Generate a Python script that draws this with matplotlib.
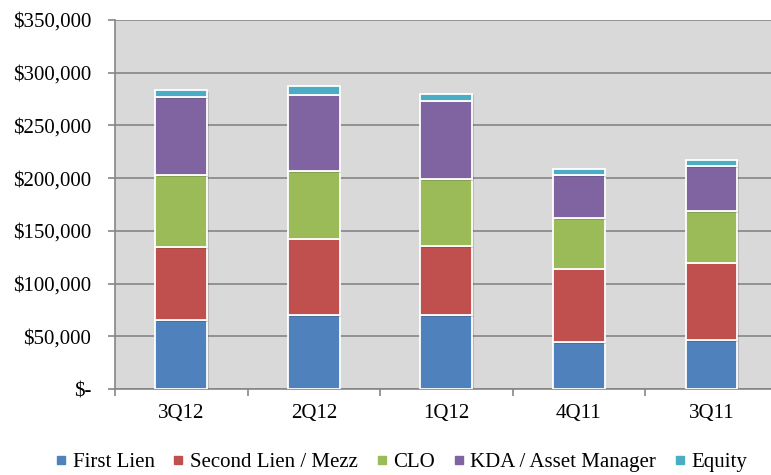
import numpy as np
import matplotlib
matplotlib.use('Agg')
from matplotlib import pyplot as plt
from matplotlib.lines import Line2D
import matplotlib.patheffects as pe

# 数据（千美元）
quarters = ['3Q12', '2Q12', '1Q12', '4Q11', '3Q11']
first_lien = [65200, 69900, 70200, 44600, 46200]
second_lien = [69500, 72800, 65200, 69600, 73700]
clo = [68100, 63800, 63800, 48100, 48700]
kda = [73700, 72800, 74100, 40500, 42700]
equity = [6900, 7600, 6900, 6300, 5700]

series_names = ['First Lien', 'Second Lien / Mezz', 'CLO', 'KDA / Asset Manager', 'Equity']
colors = ['#4F81BD', '#C0504D', '#9BBB59', '#8064A2', '#4BACC6']
y_ticks = [0, 50000, 100000, 150000, 200000, 250000, 300000, 350000]
y_labels = ['$-', '$50,000', '$100,000', '$150,000', '$200,000', '$250,000', '$300,000', '$350,000']

plt.rcParams['font.family'] = ['Liberation Serif', 'DejaVu Serif']
grey = '#868686'

fig = plt.figure(figsize=(7.71, 4.75), dpi=100)
ax = fig.add_axes([0.1492, 0.181, 0.8508, 0.777])
ax.set_facecolor('#D9D9D9')

x = np.arange(len(quarters))
bottom = np.zeros(len(quarters))
for vals, name, c in zip([first_lien, second_lien, clo, kda, equity], series_names, colors):
    ax.bar(x, vals, width=0.39, bottom=bottom, color=c, edgecolor='white', linewidth=1.3,
           zorder=3, label=name,
           path_effects=[pe.SimplePatchShadow(offset=(1.2, -1.2), alpha=0.18), pe.Normal()])
    bottom += np.array(vals)

ax.set_xlim(-0.5, 4.45)
ax.set_ylim(0, 350000)
ax.set_yticks(y_ticks)
ax.set_yticklabels(y_labels)
ax.yaxis.grid(True, color=grey, linewidth=1.2, zorder=1)
ax.set_axisbelow(True)

ax.set_xticks(x)
ax.set_xticklabels(quarters)
ax.set_xticks(np.arange(-0.5, 4.0, 1.0), minor=True)
ax.tick_params(axis='x', which='major', length=0, pad=11, labelsize=15)
ax.tick_params(axis='x', which='minor', length=5, width=1.2, color=grey, direction='out')
ax.tick_params(axis='y', length=5, width=1.2, color=grey, pad=12, labelsize=15)

for s in ['top', 'right']:
    ax.spines[s].set_visible(False)
for s in ['left', 'bottom']:
    ax.spines[s].set_color(grey)
    ax.spines[s].set_linewidth(1.2)

handles = [Line2D([], [], marker='s', linestyle='none', markersize=6, color=c) for c in colors]
fig.legend(handles, series_names, loc='center', bbox_to_anchor=(0.521, 0.027), ncol=5,
           frameon=False, fontsize=15, handlelength=0.5, handletextpad=0.3, columnspacing=0.9,
           borderpad=0)

plt.savefig('out.png', dpi=100)
